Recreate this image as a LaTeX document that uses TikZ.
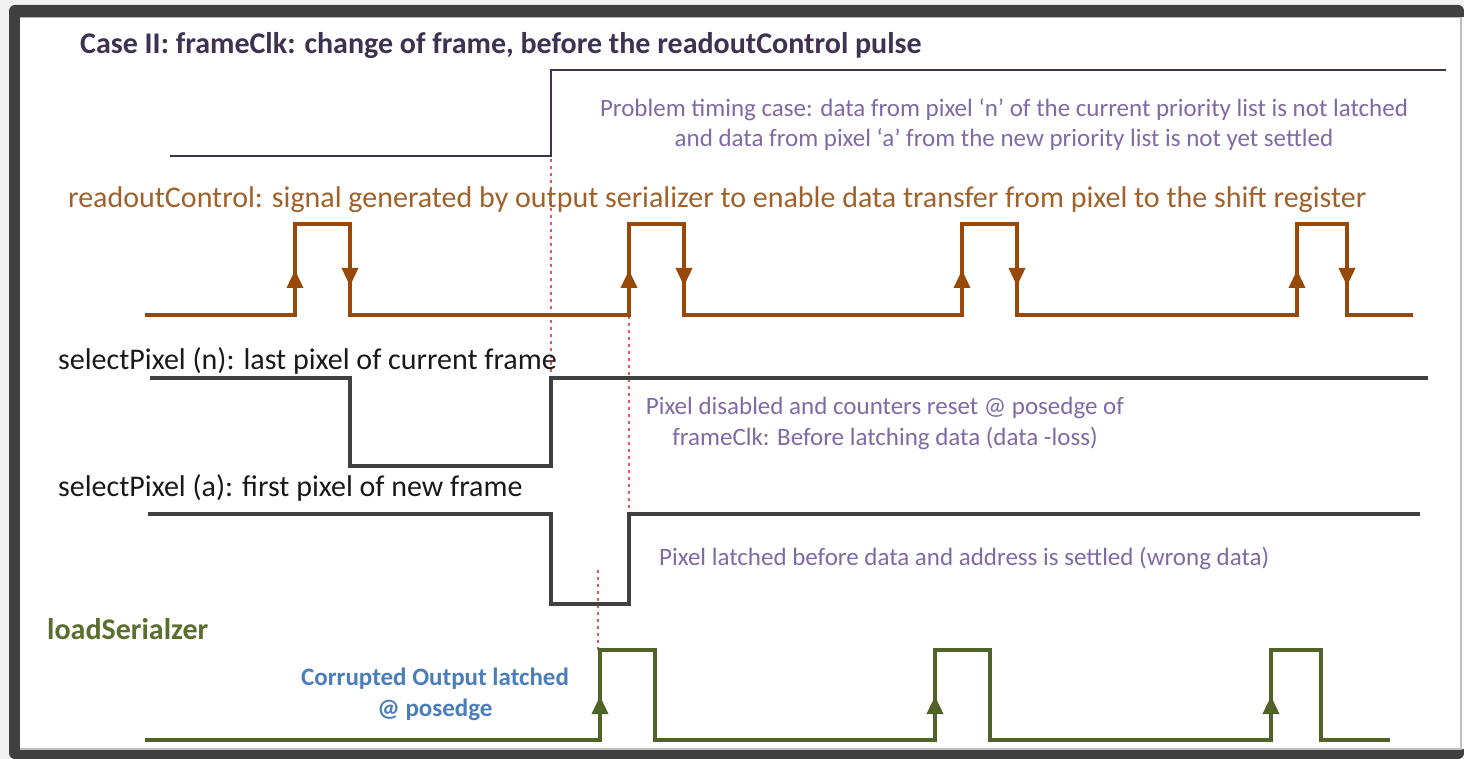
\documentclass[tikz,border=0pt]{standalone}
\usepackage{fontspec}
\setmainfont{Carlito}
\usetikzlibrary{arrows.meta}

\definecolor{framegray}{HTML}{404040}
\definecolor{clkline}{HTML}{403152}
\definecolor{titlecol}{HTML}{3F3151}
\definecolor{rdline}{HTML}{984807}
\definecolor{rdtext}{HTML}{A0612A}
\definecolor{selline}{HTML}{404040}
\definecolor{notecol}{HTML}{7F6AA6}
\definecolor{loadline}{HTML}{4F6228}
\definecolor{loadtext}{HTML}{5A6E2D}
\definecolor{bluetext}{HTML}{4A7EBB}
\definecolor{marker}{HTML}{E05A5A}

\tikzset{
  lbl/.style={inner sep=0pt, anchor=base west},
  note/.style={inner sep=0pt, anchor=base, text=notecol, font=\fontsize{25}{31}\selectfont},
  wave/.style={line width=3.6pt, line join=miter},
  edgetip/.style={-{Triangle[length=18pt,width=16pt]}},
  markerline/.style={marker, line width=1.5pt, dash pattern=on 3pt off 4pt},
}

\begin{document}
\begin{tikzpicture}[x=1pt,y=-1pt]
\useasboundingbox (0,0) rectangle (1464,759);

% page backdrop and frame
\fill[black!5] (0,0) rectangle (1464,759);
\fill[framegray, rounded corners=6pt] (9,5) -- (1464,5) -- (1464,759) -- (9,759) -- cycle;
\fill[white] (20,17) rectangle (1464,749);
\draw[black!30, line width=1pt] (20,17.5) -- (1461,17.5);
\draw[black!25, line width=1.2pt] (1461,17) -- (1461,749) -- (20,749);

% timing markers
\draw[markerline] (551,75) -- (551,466);
\draw[markerline] (629,225) -- (629,604);
\draw[markerline] (598,570) -- (598,650);

% frameClk
\node[lbl, text=titlecol, font=\bfseries\fontsize{30}{36}\selectfont] (title) at (80,54)
  {Case II: frameClk: change of frame, before the readoutControl pulse};
\draw[clkline, line width=2.8pt] (170,156) -- (551,156) -- (551,70) -- (1446,70);
\node[note] (probA) at (1004,117) {Problem timing case: data from pixel ‘n’ of the current priority list is not latched};
\node[note] (probB) at (1004,147) {and data from pixel ‘a’ from the new priority list is not yet settled};

% readoutControl
\node[lbl, text=rdtext, font=\fontsize{30}{36}\selectfont] (rdlbl) at (68,208)
  {readoutControl: signal generated by output serializer to enable data transfer from pixel to the shift register};
\draw[rdline, wave] (145,315) -- (295,315) -- (295,224) -- (350,224) -- (350,315)
  -- (629,315) -- (629,224) -- (684,224) -- (684,315)
  -- (962,315) -- (962,224) -- (1017,224) -- (1017,315)
  -- (1297,315) -- (1297,224) -- (1347,224) -- (1347,315) -- (1413,315);
\foreach \xr/\xf in {295/350, 629/684, 962/1017, 1297/1347} {
  \draw[rdline, line width=3.6pt, edgetip] (\xr,300) -- (\xr,270);
  \draw[rdline, line width=3.6pt, edgetip] (\xf,250) -- (\xf,286);
}

% selectPixel (n)
\node[lbl, text=black!90, font=\fontsize{30}{36}\selectfont] (seln) at (58,369)
  {selectPixel (n): last pixel of current frame};
\draw[selline, wave] (150,378) -- (350,378) -- (350,466) -- (551,466) -- (551,378) -- (1428,378);
\node[note, align=center] (disabled) at (885,445)
  {Pixel disabled and counters reset @ posedge of\\frameClk: Before latching data (data -loss)};

% selectPixel (a)
\node[lbl, text=black!90, font=\fontsize{30}{36}\selectfont] (sela) at (58,496)
  {selectPixel (a): first pixel of new frame};
\draw[selline, wave] (148,514) -- (551,514) -- (551,604) -- (629,604) -- (629,514) -- (1420,514);
\node[note, anchor=base west] (latched) at (659,565)
  {Pixel latched before data and address is settled (wrong data)};

% loadSerialzer
\node[lbl, text=loadtext, font=\bfseries\fontsize{30}{36}\selectfont] (ldlbl) at (47,639)
  {loadSerialzer};
\draw[loadline, wave] (145,740) -- (600,740) -- (600,650) -- (655,650) -- (655,740)
  -- (935,740) -- (935,650) -- (990,650) -- (990,740)
  -- (1271,740) -- (1271,650) -- (1321,650) -- (1321,740) -- (1390,740);
\foreach \xr in {600, 935, 1271} {
  \draw[loadline, line width=3.6pt, edgetip] (\xr,725) -- (\xr,696);
}
\node[inner sep=0pt, anchor=base, align=center, text=bluetext, font=\bfseries\fontsize{25}{31}\selectfont] (corrupt) at (435,716)
  {Corrupted Output latched\\@ posedge};
\end{tikzpicture}
\end{document}
